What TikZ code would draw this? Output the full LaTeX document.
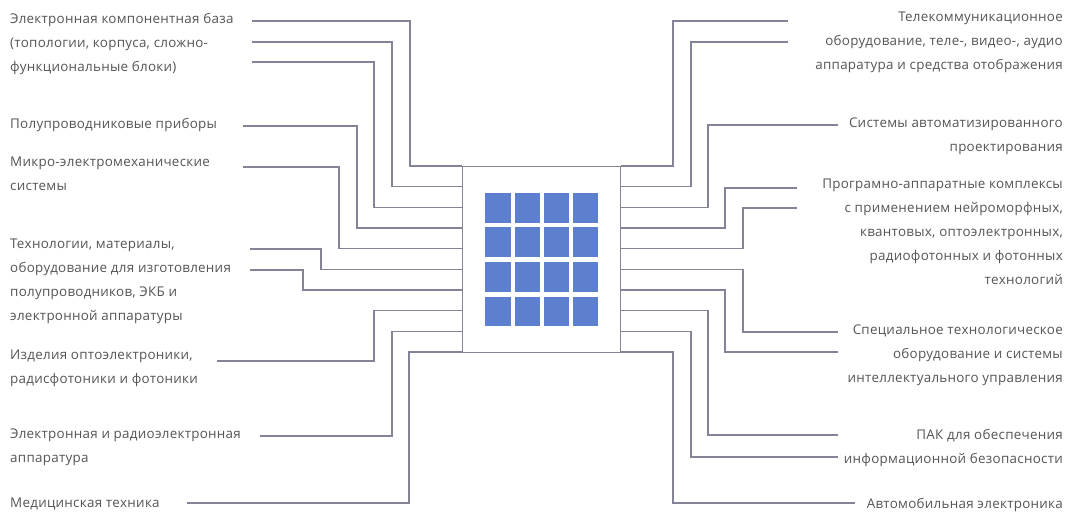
\documentclass[tikz,border=0pt]{standalone}
\usepackage{fontspec}
\setmainfont[LetterSpace=2]{Open Sans}
\definecolor{wirec}{RGB}{132,132,152}
\definecolor{txt}{RGB}{85,85,85}
\definecolor{cell}{RGB}{92,128,206}
\tikzset{
  wire/.style={draw=wirec, line width=1.1pt},
  lbl/.style={inner sep=0pt, text=txt, font=\fontsize{13.4}{24}\selectfont},
  lleft/.style={lbl, anchor=north west, align=left},
  lright/.style={lbl, anchor=north east, align=right},
  chipbox/.style={draw=wirec, line width=1pt, fill=white, minimum width=158pt, minimum height=186pt, inner sep=0pt},
  cellbox/.style={fill=cell, minimum width=25.5pt, minimum height=29.5pt, inner sep=0pt},
}
\begin{document}
\begin{tikzpicture}[x=1pt,y=-1pt]
\path[use as bounding box, fill=white] (0,0) rectangle (1073,514);
% chip
\node[chipbox] (chip) at (541,259) {};
\foreach \c/\cx in {1/498, 2/527.5, 3/556.5, 4/585.5}{
  \foreach \r/\ry in {1/208, 2/242, 3/277, 4/311.5}{
    \node[cellbox] (cell\c\r) at (\cx,\ry) {};
  }
}
% left labels
\node[lleft] (a1) at (10,13) {Электронная компонентная база\\(топологии, корпуса, сложно-\\функциональные блоки)};
\node[lleft] (a2) at (10,118) {Полупроводниковые приборы};
\node[lleft] (a3) at (10,157) {Микро-электромеханические\\системы};
\node[lleft] (a4) at (10,239) {Технологии, материалы,\\оборудование для изготовления\\полупроводников, ЭКБ и\\электронной аппаратуры};
\node[lleft] (a5) at (10,350) {Изделия оптоэлектроники,\\радисфотоники и фотоники};
\node[lleft] (a6) at (10,429) {Электронная и радиоэлектронная\\аппаратура};
\node[lleft] (a7) at (10,498) {Медицинская техника};
% right labels
\node[lright] (b1) at (1063,12) {Телекоммуникационное\\оборудование, теле-, видео-, аудио\\аппаратура и средства отображения};
\node[lright] (b2) at (1063,118) {Системы автоматизированного\\проектирования};
\node[lright] (b3) at (1063,179) {Програмно-аппаратные комплексы\\с применением нейроморфных,\\квантовых, оптоэлектронных,\\радиофотонных и фотонных\\технологий};
\node[lright] (b4) at (1063,325) {Специальное технологическое\\оборудование и системы\\интеллектуального управления};
\node[lright] (b5) at (1063,429) {ПАК для обеспечения\\информационной безопасности};
\node[lright] (b6) at (1063,498) {Автомобильная электроника};
% left wires
\foreach \i/\sx/\sy/\bx/\py in {1/252/21/410/166, 2/252/42/392/186.7, 3/252/62/374/207.3, 4/243/126/357/228, 5/243/167/339/248.7, 6/250/249/321/269.3, 7/250/270/303/290, 8/217/361/374/310.7, 9/260/436/392/331.3, 10/187/503/409/352}{
  \coordinate (sL\i) at (\sx,\sy);
  \coordinate (bL\i) at (\bx,\py);
  \coordinate (pL\i) at (chip.west |- bL\i);
  \draw[wire] (sL\i) -| (bL\i) -- (pL\i);
}
% right wires
\foreach \i/\ex/\ey/\bx/\py in {1/788/21/673/166, 2/788/42/691/186.7, 3/838/125/708/207.3, 4/797/188/725/228, 5/797/208/743/248.7, 6/838/332/743/269.3, 7/838/352/725/290, 8/838/435/708/310.7, 9/838/457/691/331.3, 10/855/503/673/352}{
  \coordinate (eR\i) at (\ex,\ey);
  \coordinate (bR\i) at (\bx,\py);
  \coordinate (pR\i) at (chip.east |- bR\i);
  \draw[wire] (pR\i) -- (bR\i) |- (eR\i);
}
\end{tikzpicture}
\end{document}
